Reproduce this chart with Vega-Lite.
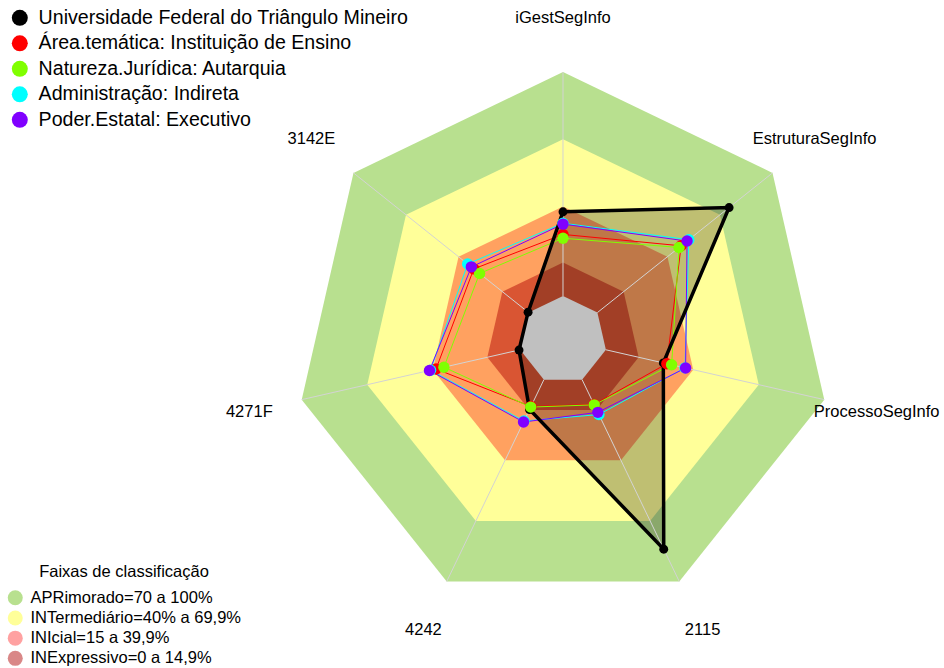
{
"$schema":"https://vega.github.io/schema/vega-lite/v6.json",
"width":944,"height":668,"padding":0,"autosize":{"type":"none"},
"background":"white",
"config":{"view":{"stroke":null},"font":"Liberation Sans","legend":{"padding":0}},
"datasets":{
 "eixos":[{"eixo":"iGestSegInfo","i":0},{"eixo":"EstruturaSegInfo","i":1},{"eixo":"ProcessoSegInfo","i":2},{"eixo":"2115","i":3},{"eixo":"4242","i":4},{"eixo":"4271F","i":5},{"eixo":"3142E","i":6}],
 "faixas":[
  {"faixa":"APRimorado=70 a 100%","nivel":100,"i":[0,1,2,3,4,5,6]},
  {"faixa":"INTermediário=40% a 69,9%","nivel":70,"i":[0,1,2,3,4,5,6]},
  {"faixa":"INIcial=15 a 39,9%","nivel":40,"i":[0,1,2,3,4,5,6]},
  {"faixa":"INExpressivo=0 a 14,9%","nivel":15,"i":[0,1,2,3,4,5,6]},
  {"faixa":"centro","nivel":0,"i":[0,1,2,3,4,5,6]}
 ],
 "series":[
  {"serie":"Universidade Federal do Triângulo Mineiro","eixo":"iGestSegInfo","i":0,"valor":37.6},
  {"serie":"Universidade Federal do Triângulo Mineiro","eixo":"EstruturaSegInfo","i":1,"valor":75.2},
  {"serie":"Universidade Federal do Triângulo Mineiro","eixo":"ProcessoSegInfo","i":2,"valor":26.3},
  {"serie":"Universidade Federal do Triângulo Mineiro","eixo":"2115","i":3,"valor":84},
  {"serie":"Universidade Federal do Triângulo Mineiro","eixo":"4242","i":4,"valor":14.8},
  {"serie":"Universidade Federal do Triângulo Mineiro","eixo":"4271F","i":5,"valor":0.5},
  {"serie":"Universidade Federal do Triângulo Mineiro","eixo":"3142E","i":6,"valor":0.3},
  {"serie":"Área.temática: Instituição de Ensino","eixo":"iGestSegInfo","i":0,"valor":27.5},
  {"serie":"Área.temática: Instituição de Ensino","eixo":"EstruturaSegInfo","i":1,"valor":47.8},
  {"serie":"Área.temática: Instituição de Ensino","eixo":"ProcessoSegInfo","i":2,"valor":27.9},
  {"serie":"Área.temática: Instituição de Ensino","eixo":"2115","i":3,"valor":12.3},
  {"serie":"Área.temática: Instituição de Ensino","eixo":"4242","i":4,"valor":13.3},
  {"serie":"Área.temática: Instituição de Ensino","eixo":"4271F","i":5,"valor":38.5},
  {"serie":"Área.temática: Instituição de Ensino","eixo":"3142E","i":6,"valor":31.3},
  {"serie":"Natureza.Jurídica: Autarquia","eixo":"iGestSegInfo","i":0,"valor":25.8},
  {"serie":"Natureza.Jurídica: Autarquia","eixo":"EstruturaSegInfo","i":1,"valor":46.6},
  {"serie":"Natureza.Jurídica: Autarquia","eixo":"ProcessoSegInfo","i":2,"valor":30.1},
  {"serie":"Natureza.Jurídica: Autarquia","eixo":"2115","i":3,"valor":12.5},
  {"serie":"Natureza.Jurídica: Autarquia","eixo":"4242","i":4,"valor":13.6},
  {"serie":"Natureza.Jurídica: Autarquia","eixo":"4271F","i":5,"valor":34.9},
  {"serie":"Natureza.Jurídica: Autarquia","eixo":"3142E","i":6,"valor":28.0},
  {"serie":"Administração: Indireta","eixo":"iGestSegInfo","i":0,"valor":32.5},
  {"serie":"Administração: Indireta","eixo":"EstruturaSegInfo","i":1,"valor":52.2},
  {"serie":"Administração: Indireta","eixo":"ProcessoSegInfo","i":2,"valor":36.2},
  {"serie":"Administração: Indireta","eixo":"2115","i":3,"valor":17.3},
  {"serie":"Administração: Indireta","eixo":"4242","i":4,"valor":20.5},
  {"serie":"Administração: Indireta","eixo":"4271F","i":5,"valor":41.0},
  {"serie":"Administração: Indireta","eixo":"3142E","i":6,"valor":34.8},
  {"serie":"Poder.Estatal: Executivo","eixo":"iGestSegInfo","i":0,"valor":32.1},
  {"serie":"Poder.Estatal: Executivo","eixo":"EstruturaSegInfo","i":1,"valor":51.2},
  {"serie":"Poder.Estatal: Executivo","eixo":"ProcessoSegInfo","i":2,"valor":36.5},
  {"serie":"Poder.Estatal: Executivo","eixo":"2115","i":3,"valor":16.2},
  {"serie":"Poder.Estatal: Executivo","eixo":"4242","i":4,"valor":21.0},
  {"serie":"Poder.Estatal: Executivo","eixo":"4271F","i":5,"valor":41.5},
  {"serie":"Poder.Estatal: Executivo","eixo":"3142E","i":6,"valor":32.7}
 ]
},
"encoding":{
 "x":{"field":"x","type":"quantitative","scale":{"domain":[-251.34,170.09],"nice":false,"zero":false},"axis":null},
 "y":{"field":"y","type":"quantitative","scale":{"domain":[-146.43,151.79],"nice":false,"zero":false},"axis":null}
},
"layer":[
 {
  "data":{"name":"faixas"},
  "transform":[{"filter":"datum.nivel == 100"},{"flatten":["i"]},{"calculate":"(datum.nivel + 19.64) * sin(datum.i * 2 * PI / 7)","as":"x"},{"calculate":"(datum.nivel + 19.64) * cos(datum.i * 2 * PI / 7)","as":"y"}],
  "mark":{"type":"line","interpolate":"linear-closed","strokeWidth":0,"strokeOpacity":0},
  "encoding":{"fill":{"field":"faixa","type":"nominal","scale":{"domain":["APRimorado=70 a 100%","INTermediário=40% a 69,9%","INIcial=15 a 39,9%","INExpressivo=0 a 14,9%"],"range":["#b8e08f","#ffff99","rgba(255,0,0,0.37)","rgba(175,0,0,0.47)"]},"legend":{"title":"Faixas de classificação","orient":"none","legendX":7,"legendY":564,"symbolType":"circle","symbolSize":225,"symbolStrokeWidth":0,"labelFontSize":16.5,"titleFontSize":16.5,"titleFontWeight":"normal","titleAnchor":"middle","titlePadding":9,"rowPadding":3.2,"labelOffset":7,"labelLimit":0,"titleLimit":0}},"order":{"field":"i","type":"quantitative"}}
 },
 {
  "data":{"name":"faixas"},
  "transform":[{"filter":"datum.nivel == 70"},{"flatten":["i"]},{"calculate":"(datum.nivel + 19.64) * sin(datum.i * 2 * PI / 7)","as":"x"},{"calculate":"(datum.nivel + 19.64) * cos(datum.i * 2 * PI / 7)","as":"y"}],
  "mark":{"type":"line","interpolate":"linear-closed","strokeWidth":0,"strokeOpacity":0},
  "encoding":{"fill":{"field":"faixa","type":"nominal","scale":{"domain":["APRimorado=70 a 100%","INTermediário=40% a 69,9%","INIcial=15 a 39,9%","INExpressivo=0 a 14,9%"],"range":["#b8e08f","#ffff99","rgba(255,0,0,0.37)","rgba(175,0,0,0.47)"]},"legend":{"title":"Faixas de classificação","orient":"none","legendX":7,"legendY":564,"symbolType":"circle","symbolSize":225,"symbolStrokeWidth":0,"labelFontSize":16.5,"titleFontSize":16.5,"titleFontWeight":"normal","titleAnchor":"middle","titlePadding":9,"rowPadding":3.2,"labelOffset":7,"labelLimit":0,"titleLimit":0}},"order":{"field":"i","type":"quantitative"}}
 },
 {
  "data":{"name":"faixas"},
  "transform":[{"filter":"datum.nivel == 40"},{"flatten":["i"]},{"calculate":"(datum.nivel + 19.64) * sin(datum.i * 2 * PI / 7)","as":"x"},{"calculate":"(datum.nivel + 19.64) * cos(datum.i * 2 * PI / 7)","as":"y"}],
  "mark":{"type":"line","interpolate":"linear-closed","strokeWidth":0,"strokeOpacity":0},
  "encoding":{"fill":{"field":"faixa","type":"nominal","scale":{"domain":["APRimorado=70 a 100%","INTermediário=40% a 69,9%","INIcial=15 a 39,9%","INExpressivo=0 a 14,9%"],"range":["#b8e08f","#ffff99","rgba(255,0,0,0.37)","rgba(175,0,0,0.47)"]},"legend":{"title":"Faixas de classificação","orient":"none","legendX":7,"legendY":564,"symbolType":"circle","symbolSize":225,"symbolStrokeWidth":0,"labelFontSize":16.5,"titleFontSize":16.5,"titleFontWeight":"normal","titleAnchor":"middle","titlePadding":9,"rowPadding":3.2,"labelOffset":7,"labelLimit":0,"titleLimit":0}},"order":{"field":"i","type":"quantitative"}}
 },
 {
  "data":{"name":"faixas"},
  "transform":[{"filter":"datum.nivel == 15"},{"flatten":["i"]},{"calculate":"(datum.nivel + 19.64) * sin(datum.i * 2 * PI / 7)","as":"x"},{"calculate":"(datum.nivel + 19.64) * cos(datum.i * 2 * PI / 7)","as":"y"}],
  "mark":{"type":"line","interpolate":"linear-closed","strokeWidth":0,"strokeOpacity":0},
  "encoding":{"fill":{"field":"faixa","type":"nominal","scale":{"domain":["APRimorado=70 a 100%","INTermediário=40% a 69,9%","INIcial=15 a 39,9%","INExpressivo=0 a 14,9%"],"range":["#b8e08f","#ffff99","rgba(255,0,0,0.37)","rgba(175,0,0,0.47)"]},"legend":{"title":"Faixas de classificação","orient":"none","legendX":7,"legendY":564,"symbolType":"circle","symbolSize":225,"symbolStrokeWidth":0,"labelFontSize":16.5,"titleFontSize":16.5,"titleFontWeight":"normal","titleAnchor":"middle","titlePadding":9,"rowPadding":3.2,"labelOffset":7,"labelLimit":0,"titleLimit":0}},"order":{"field":"i","type":"quantitative"}}
 },
 {
  "data":{"name":"series"},
  "transform":[{"filter":"datum.serie === 'Universidade Federal do Triângulo Mineiro'"},{"calculate":"(datum.valor + 19.64) * sin(datum.i * 2 * PI / 7)","as":"x"},{"calculate":"(datum.valor + 19.64) * cos(datum.i * 2 * PI / 7)","as":"y"}],
  "mark":{"type":"line","interpolate":"linear-closed","fill":"black","fillOpacity":0.25,"strokeWidth":0,"strokeOpacity":0},
  "encoding":{"order":{"field":"i","type":"quantitative"}}
 },
 {
  "data":{"name":"faixas"},
  "transform":[{"filter":"datum.nivel == 0"},{"flatten":["i"]},{"calculate":"(datum.nivel + 19.64) * sin(datum.i * 2 * PI / 7)","as":"x"},{"calculate":"(datum.nivel + 19.64) * cos(datum.i * 2 * PI / 7)","as":"y"}],
  "mark":{"type":"line","interpolate":"linear-closed","fill":"#c0c0c0","strokeWidth":0,"strokeOpacity":0},
  "encoding":{"order":{"field":"i","type":"quantitative"}}
 },
 {
  "data":{"name":"eixos"},
  "transform":[{"calculate":"19.64 * sin(datum.i * 2 * PI / 7)","as":"x"},{"calculate":"19.64 * cos(datum.i * 2 * PI / 7)","as":"y"},{"calculate":"119.64 * sin(datum.i * 2 * PI / 7)","as":"x2"},{"calculate":"119.64 * cos(datum.i * 2 * PI / 7)","as":"y2"}],
  "mark":{"type":"rule","color":"#d3d3d3","strokeWidth":1},
  "encoding":{"x2":{"field":"x2"},"y2":{"field":"y2"}}
 },
 {
  "data":{"name":"series"},
  "transform":[{"filter":"datum.serie !== 'Universidade Federal do Triângulo Mineiro'"},{"calculate":"(datum.valor + 19.64) * sin(datum.i * 2 * PI / 7)","as":"x"},{"calculate":"(datum.valor + 19.64) * cos(datum.i * 2 * PI / 7)","as":"y"}],
  "mark":{"type":"line","interpolate":"linear-closed","strokeWidth":1},
  "encoding":{"stroke":{"field":"serie","type":"nominal","scale":{"domain":["Área.temática: Instituição de Ensino","Natureza.Jurídica: Autarquia","Administração: Indireta","Poder.Estatal: Executivo"],"range":["#ff0000","#80ff00","#00ffff","#8000ff"]},"legend":null},"order":{"field":"i","type":"quantitative"}}
 },
 {
  "data":{"name":"series"},
  "transform":[{"filter":"datum.serie === 'Universidade Federal do Triângulo Mineiro'"},{"calculate":"(datum.valor + 19.64) * sin(datum.i * 2 * PI / 7)","as":"x"},{"calculate":"(datum.valor + 19.64) * cos(datum.i * 2 * PI / 7)","as":"y"}],
  "mark":{"type":"line","interpolate":"linear-closed","stroke":"black","strokeWidth":3.5},
  "encoding":{"order":{"field":"i","type":"quantitative"}}
 },
 {
  "data":{"name":"series"},
  "transform":[{"calculate":"(datum.valor + 19.64) * sin(datum.i * 2 * PI / 7)","as":"x"},{"calculate":"(datum.valor + 19.64) * cos(datum.i * 2 * PI / 7)","as":"y"}],
  "mark":{"type":"point","filled":true,"opacity":1,"shape":"circle","strokeWidth":0},
  "encoding":{
   "color":{"field":"serie","type":"nominal","scale":{"domain":["Universidade Federal do Triângulo Mineiro","Área.temática: Instituição de Ensino","Natureza.Jurídica: Autarquia","Administração: Indireta","Poder.Estatal: Executivo"],"range":["#000000","#ff0000","#80ff00","#00ffff","#8000ff"]},"legend":{"title":null,"orient":"none","legendX":10,"legendY":8,"symbolType":"circle","symbolSize":256,"symbolStrokeWidth":0,"labelFontSize":19.6,"rowPadding":4.5,"labelOffset":9,"labelLimit":0}},
   "size":{"condition":{"test":"datum.serie === 'Universidade Federal do Triângulo Mineiro'","value":80},"value":130}
  }
 },
 {
  "data":{"name":"eixos"},
  "transform":[{"calculate":"(124 + 19.64) * sin(datum.i * 2 * PI / 7)","as":"x"},{"calculate":"(124 + 19.64) * cos(datum.i * 2 * PI / 7)","as":"y"}],
  "mark":{"type":"text","fontSize":16.5,"align":"center","baseline":"middle","color":"black"},
  "encoding":{"text":{"field":"eixo","type":"nominal"}}
 }
]
}
